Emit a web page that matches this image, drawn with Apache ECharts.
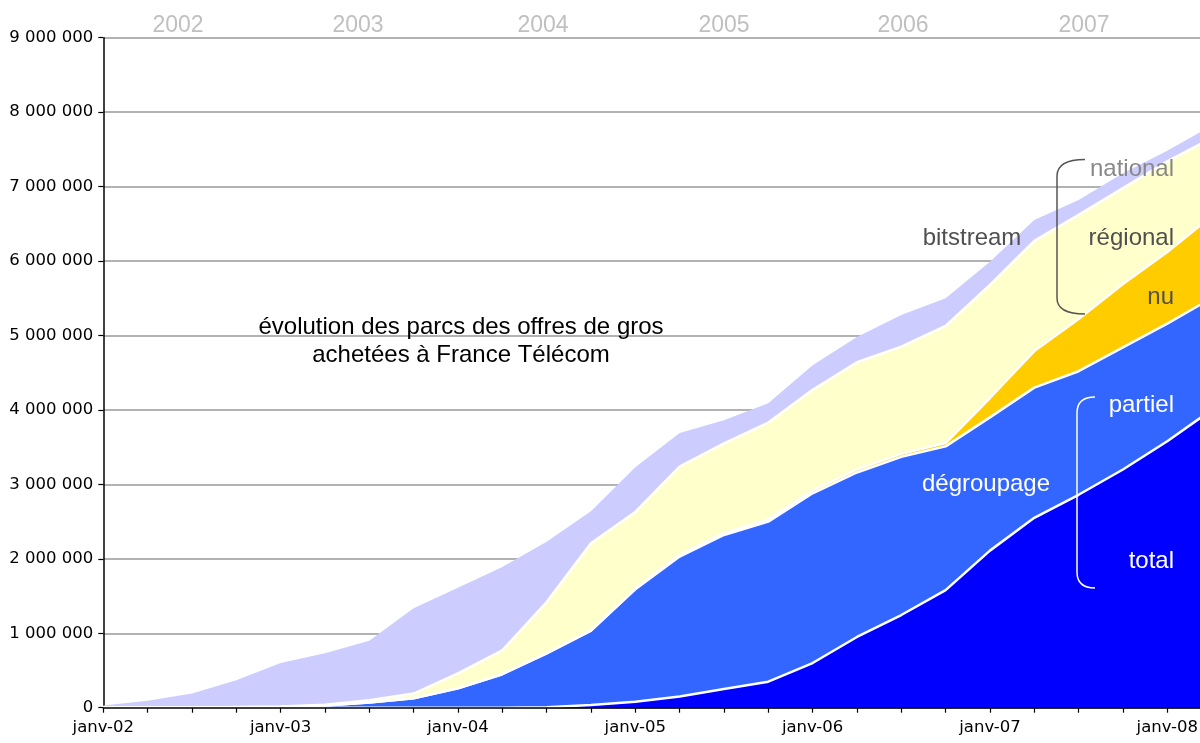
<!DOCTYPE html>
<html>
<head>
<meta charset="utf-8">
<script src="https://cdn.jsdelivr.net/npm/echarts@6/dist/echarts.min.js"></script>
<style>
  html, body { margin: 0; padding: 0; background: #fff; }
  #chart { width: 1200px; height: 743px; }
</style>
</head>
<body>
<div id="chart"></div>
<script>
// trimestres (le dernier point sort du cadre, à droite)
var quarters = ['janv-02', 'avr-02', 'juil-02', 'oct-02',
    'janv-03', 'avr-03', 'juil-03', 'oct-03',
    'janv-04', 'avr-04', 'juil-04', 'oct-04',
    'janv-05', 'avr-05', 'juil-05', 'oct-05',
    'janv-06', 'avr-06', 'juil-06', 'oct-06',
    'janv-07', 'avr-07', 'juil-07', 'oct-07',
    'janv-08', 'avr-08'];

// dégroupage total
var total = [0, 0, 0, 0, 0, 0, 0, 0, 0, 0,
    5000, 35000, 80000, 150000, 250000, 350000, 600000, 950000, 1245000, 1580000,
    2110000, 2550000, 2860000, 3200000, 3580000, 4000000];
// dégroupage partiel
var partiel = [0, 0, 0, 5000, 10000, 30000, 70000, 126000, 260000, 450000,
    725000, 1000000, 1510000, 1880000, 2070000, 2150000, 2280000, 2210000, 2125000, 1930000,
    1790000, 1750000, 1660000, 1640000, 1580000, 1500000];
// bitstream nu
var nu = [0, 0, 0, 0, 0, 0, 0, 0, 0, 0,
    0, 0, 10000, 20000, 25000, 30000, 35000, 40000, 40000, 45000,
    260000, 490000, 700000, 850000, 960000, 1100000];
// bitstream régional
var regional = [0, 0, 0, 3000, 5000, 10000, 30000, 64000, 200000, 320000,
    690000, 1175000, 1030000, 1190000, 1205000, 1300000, 1355000, 1440000, 1440000, 1575000,
    1520000, 1480000, 1400000, 1290000, 1220000, 1050000];
// bitstream national
var national = [30000, 94000, 190000, 362000, 585000, 690000, 800000, 1145000, 1150000, 1120000,
    810000, 430000, 600000, 450000, 310000, 260000, 330000, 340000, 425000, 370000,
    310000, 280000, 200000, 200000, 140000, 170000];

var years = ['2002', '2003', '2004', '2005', '2006', '2007'];

var items = [
    { name: 'total', data: total, color: '#0000FF', line: true },
    { name: 'partiel', data: partiel, color: '#3366FF', line: true },
    { name: 'nu', data: nu, color: '#FFCC00', line: true },
    { name: 'régional', data: regional, color: '#FFFFCC', line: true },
    { name: 'national', data: national, color: '#CCCCFF', line: false }
];

var axisFont = '"DejaVu Sans", Verdana, sans-serif';
var textFont = '"Liberation Sans", Arial, sans-serif';

var myChart = echarts.init(document.getElementById('chart'));

function spaced(v) {
    return String(v).replace(/\B(?=(\d{3})+(?!\d))/g, ' ');
}

function label(text, x, y, color, align) {
    return {
        type: 'text', x: x, y: y, z: 100,
        style: {
            text: text, fill: color, font: '24px ' + textFont,
            textAlign: align || 'center', textVerticalAlign: 'middle'
        }
    };
}

function curve(x1, y1, cx, cy, x2, y2, color) {
    return {
        type: 'bezierCurve', z: 100,
        shape: { x1: x1, y1: y1, cpx1: cx, cpy1: cy, x2: x2, y2: y2 },
        style: { stroke: color, lineWidth: 1.5, fill: null }
    };
}

function vline(x, y1, y2, color) {
    return {
        type: 'line', z: 100,
        shape: { x1: x, y1: y1, x2: x, y2: y2 },
        style: { stroke: color, lineWidth: 1.5 }
    };
}

var yearX = [178, 358, 543, 724, 903, 1084];
var graphics = [];
for (var k = 0; k < years.length; k++) {
    graphics.push({
        type: 'text', x: yearX[k], y: 26,
        style: {
            text: years[k], fill: '#c0c0c0', font: '23px ' + textFont,
            textAlign: 'center', textVerticalAlign: 'middle'
        }
    });
}
graphics.push({
    type: 'text', x: 461, y: 341, z: 100,
    style: {
        text: 'évolution des parcs des offres de gros\nachetées à France Télécom',
        fill: '#000', font: '24px ' + textFont, lineHeight: 28,
        textAlign: 'center', textVerticalAlign: 'middle'
    }
});
graphics.push(label('bitstream', 972, 238, '#505050'));
graphics.push(label('national', 1174, 169, '#888888', 'right'));
graphics.push(label('régional', 1174, 238, '#505050', 'right'));
graphics.push(label('nu', 1174, 297, '#505050', 'right'));
graphics.push(label('partiel', 1174, 405, '#ffffff', 'right'));
graphics.push(label('dégroupage', 986, 484, '#ffffff'));
graphics.push(label('total', 1174, 561, '#ffffff', 'right'));
// accolades
graphics.push(curve(1085, 159.5, 1057, 159.5, 1057, 176, '#555555'));
graphics.push(vline(1057, 176, 298, '#555555'));
graphics.push(curve(1057, 298, 1057, 314, 1085, 314, '#555555'));
graphics.push(curve(1095, 397, 1077, 397, 1077, 413, '#ffffff'));
graphics.push(vline(1077, 413, 572, '#ffffff'));
graphics.push(curve(1077, 572, 1077, 588, 1095, 588, '#ffffff'));

var option = {
    animation: false,
    backgroundColor: '#fff',
    grid: {
        left: 103.3, top: 37.7, width: 1108.3, height: 670,
        containLabel: false, outerBoundsMode: 'none'
    },
    xAxis: {
        type: 'category',
        boundaryGap: false,
        data: quarters,
        z: 10,
        axisLine: { show: true, lineStyle: { color: '#000', width: 1.5 } },
        axisTick: { show: true, interval: 0, length: 5, lineStyle: { color: '#000', width: 1.2 } },
        axisLabel: { interval: 3, margin: 12, color: '#000', fontSize: 16.5, fontFamily: axisFont },
        splitLine: { show: false }
    },
    yAxis: {
        type: 'value',
        min: 0, max: 9000000, interval: 1000000,
        axisLine: { show: true, lineStyle: { color: '#000', width: 1.5 } },
        axisTick: { show: true, length: 5, lineStyle: { color: '#000', width: 1.2 } },
        axisLabel: { margin: 10, color: '#000', fontSize: 16.5, fontFamily: axisFont, formatter: spaced },
        splitLine: { show: true, lineStyle: { color: '#999', width: 1.5 } }
    },
    graphic: graphics,
    series: []
};

for (var i = 0; i < items.length; i++) {
    option.series.push({
        name: items[i].name,
        type: 'line',
        stack: 'parc',
        data: items[i].data,
        showSymbol: false,
        symbol: 'none',
        smooth: false,
        lineStyle: items[i].line ? { color: '#fff', width: 2.5 } : { width: 0, opacity: 0 },
        areaStyle: { color: items[i].color, opacity: 1 },
        itemStyle: { color: items[i].color },
        emphasis: { disabled: true }
    });
}

myChart.setOption(option);
</script>
</body>
</html>
